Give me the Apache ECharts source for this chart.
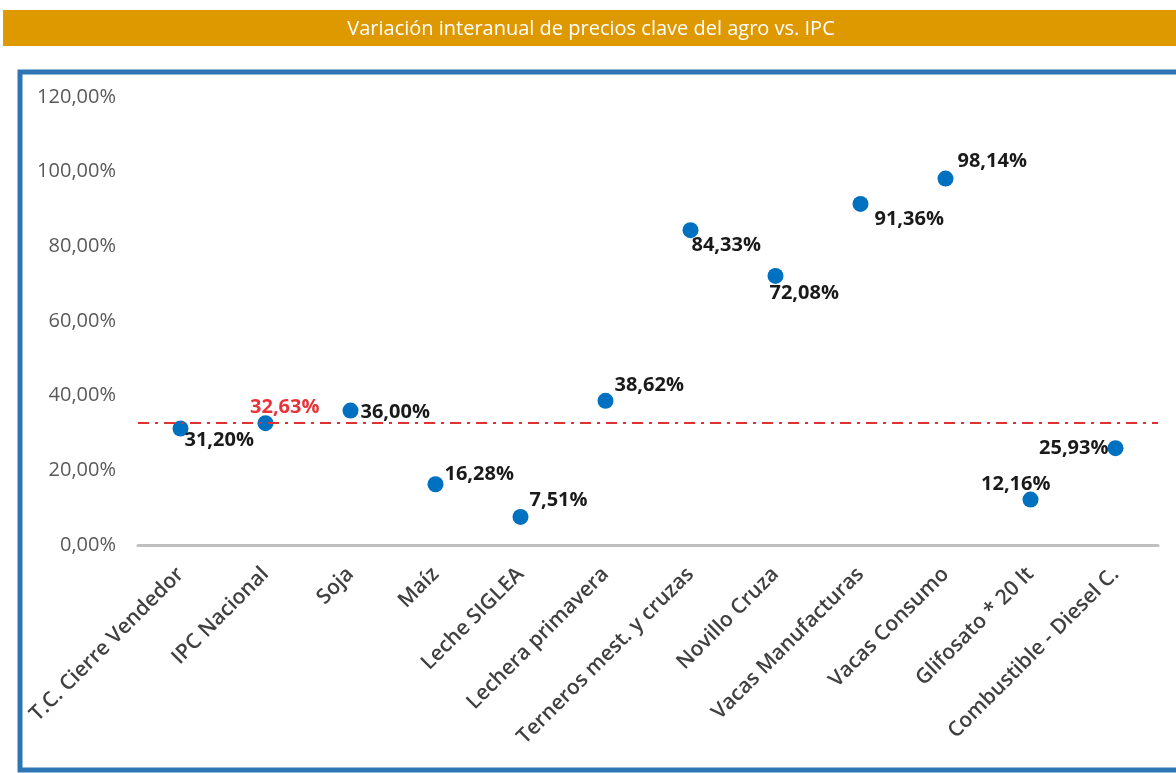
<!DOCTYPE html>
<html>
<head>
<meta charset="utf-8">
<script src="https://cdn.jsdelivr.net/npm/echarts@6/dist/echarts.min.js"></script>
<style>
  html, body { margin: 0; padding: 0; background: #fff; }
  #chart { width: 1176px; height: 773px; }
</style>
</head>
<body>
<div id="chart"></div>
<script>
// categorias y valores (variación interanual, %)
var categories = ['T.C. Cierre Vendedor', 'IPC Nacional', 'Soja', 'Maíz', 'Leche SIGLEA',
  'Lechera primavera', 'Terneros mest. y cruzas', 'Novillo Cruza', 'Vacas Manufacturas',
  'Vacas Consumo', 'Glifosato * 20 lt', 'Combustible - Diesel C.'];
var values = [31.20, 32.63, 36.00, 16.28, 7.51, 38.62, 84.33, 72.08, 91.36, 98.14, 12.16, 25.93];
var ipcValue = 32.63;
var yTicks = [0, 20, 40, 60, 80, 100, 120];

// ubicación de las etiquetas respecto del punto
var labelOffsets = [[12, 20], [62, -8], [18, 10], [17, -2], [17, -9], [17, -8],
  [9, 23], [2, 25], [22, 23], [20, -9], [28, -7], [1, 8]];
var labelAlign = ['left', 'right', 'left', 'left', 'left', 'left',
  'left', 'left', 'left', 'left', 'right', 'right'];

function pct(v) {
  return v.toFixed(2).replace('.', ',') + '%';
}

var myChart = echarts.init(document.getElementById('chart'));

var points = values.map(function (v, i) {
  return {
    value: v,
    label: {
      position: labelOffsets[i],
      align: labelAlign[i],
      color: categories[i] === 'IPC Nacional' ? '#E8333A' : '#1a1a1a'
    }
  };
});

var option = {
  animation: false,
  graphic: [
    {
      type: 'rect',
      shape: { x: 3, y: 10, width: 1180, height: 36 },
      style: { fill: '#DE9900' }
    },
    {
      type: 'text',
      x: 591, y: 29,
      style: {
        text: 'Variación interanual de precios clave del agro vs. IPC',
        fill: '#fff',
        font: '20px "Liberation Sans Narrow", "Open Sans", sans-serif',
        align: 'center',
        verticalAlign: 'middle'
      }
    },
    {
      type: 'rect',
      shape: { x: 20, y: 72, width: 1200, height: 698 },
      style: { fill: 'none', stroke: '#2E75B6', lineWidth: 5 }
    }
  ],
  grid: { left: 138, right: 18, top: 97, bottom: 228 },
  xAxis: {
    type: 'category',
    data: categories,
    axisLine: { lineStyle: { color: '#BFBFBF', width: 3 } },
    axisTick: { show: false },
    axisLabel: {
      interval: 0,
      rotate: 45,
      color: '#404040',
      fontSize: 21,
      fontWeight: 600,
      fontFamily: 'Open Sans',
      margin: 26
    }
  },
  yAxis: {
    type: 'value',
    min: yTicks[0],
    max: yTicks[yTicks.length - 1],
    interval: 20,
    axisLine: { show: false },
    axisTick: { show: false },
    splitLine: { show: false },
    axisLabel: {
      color: '#595959',
      fontSize: 20,
      fontFamily: 'Open Sans',
      margin: 22,
      formatter: function (v) { return pct(v); }
    }
  },
  series: [{
    type: 'scatter',
    data: points,
    symbolSize: 16,
    itemStyle: { color: '#0070C0', opacity: 1 },
    label: {
      show: true,
      verticalAlign: 'middle',
      fontSize: 20,
      fontWeight: 'bold',
      fontFamily: 'Open Sans',
      formatter: function (p) { return pct(p.value); }
    },
    markLine: {
      silent: true,
      symbol: 'none',
      label: { show: false },
      lineStyle: { color: '#DD3333', width: 2, type: [11, 6, 3, 6] },
      data: [{ yAxis: ipcValue }]
    }
  }]
};

myChart.setOption(option);
</script>
</body>
</html>
